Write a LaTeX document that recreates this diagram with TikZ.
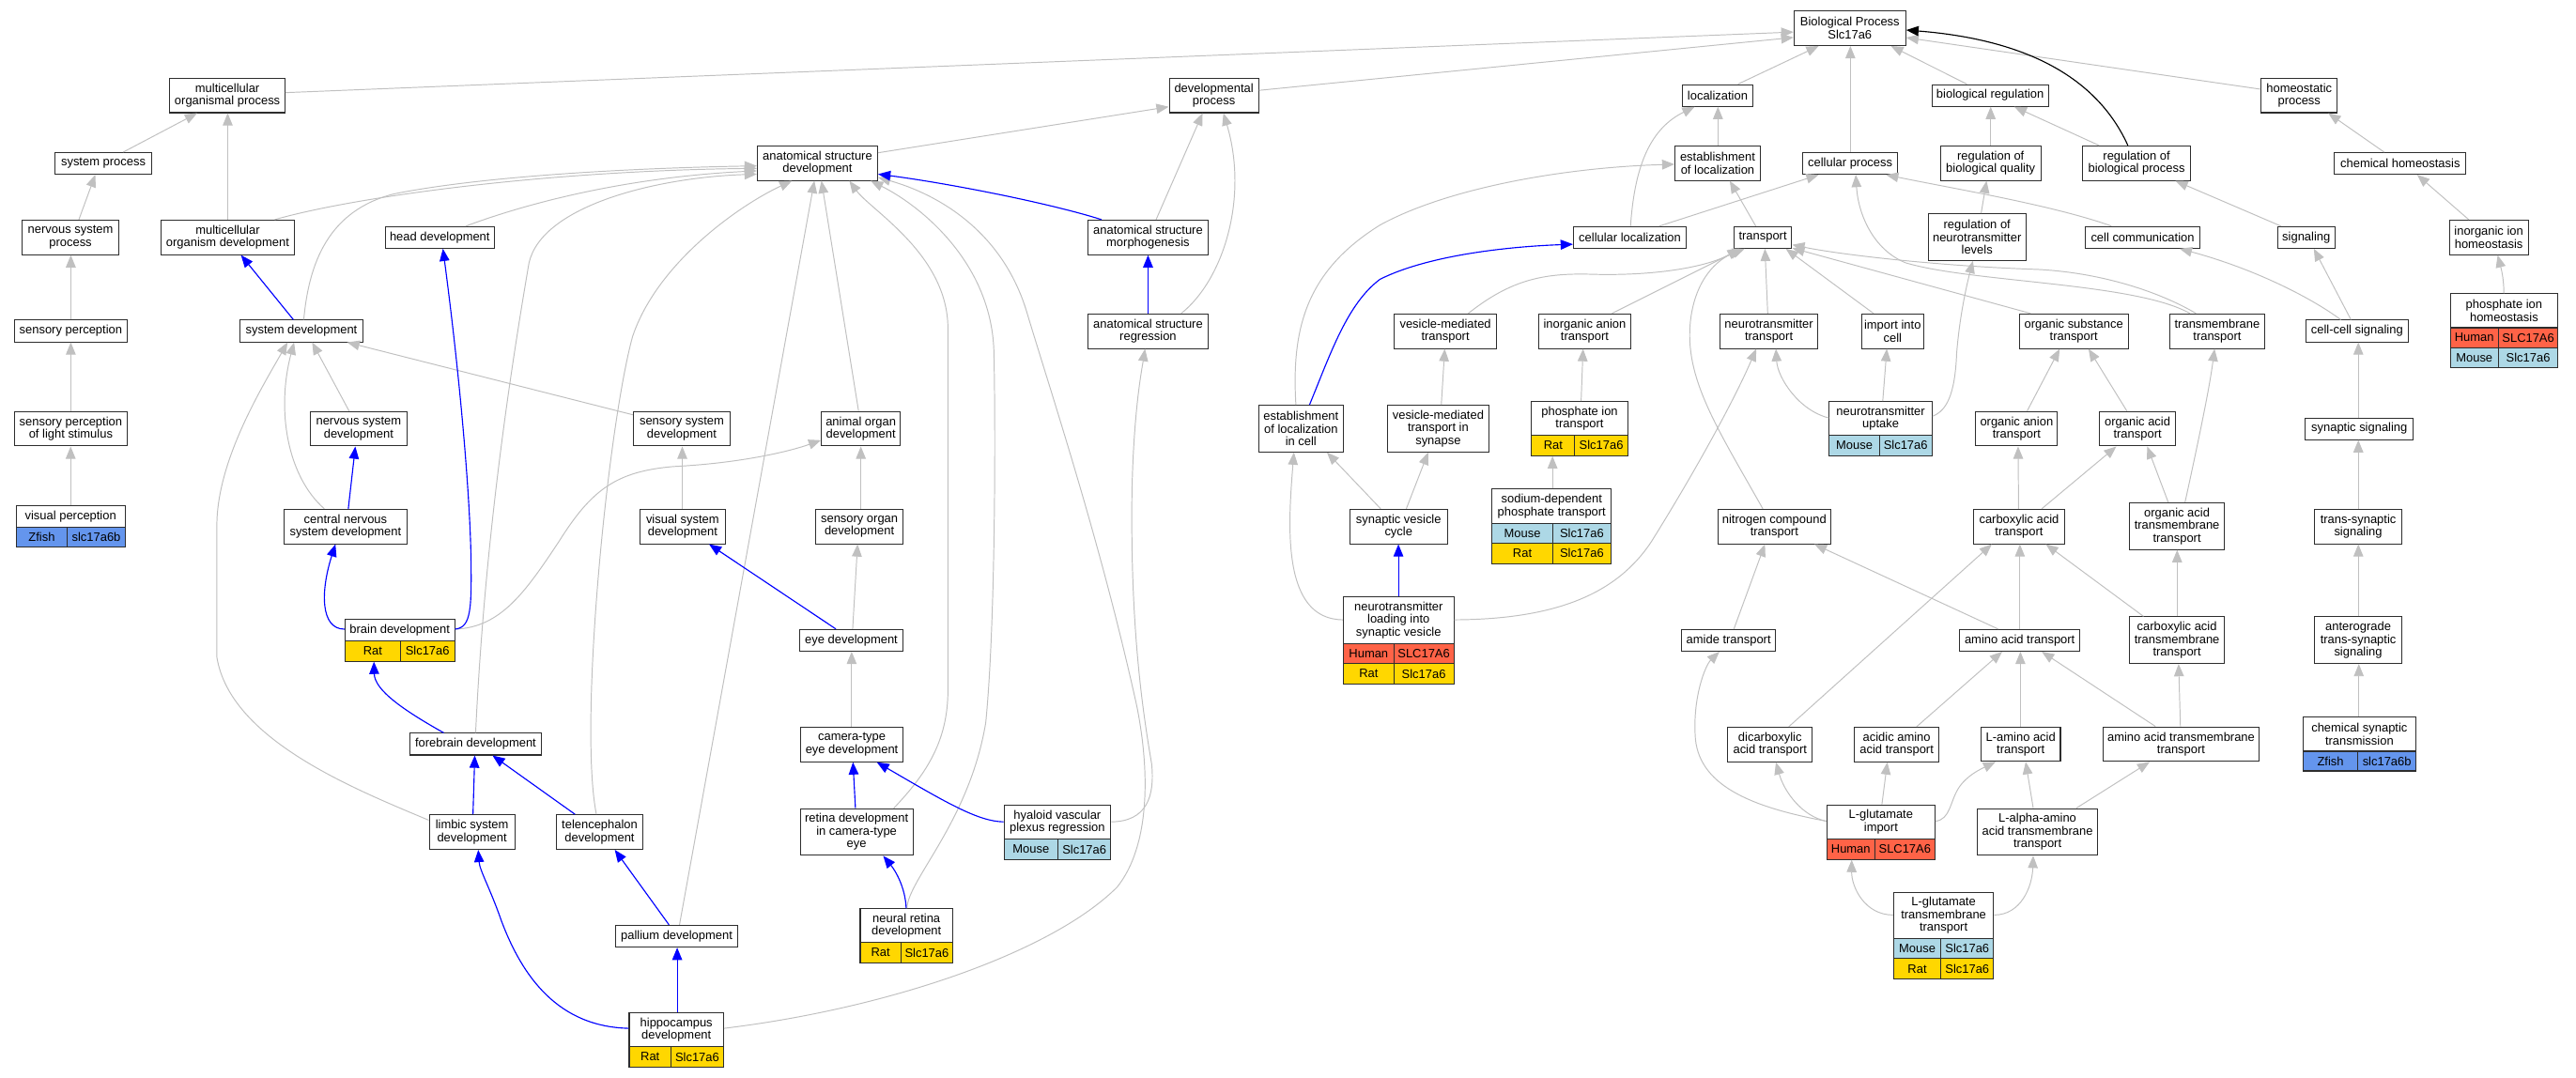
\documentclass[tikz,border=0pt]{standalone}
\usepackage{fontspec}
\setmainfont{Liberation Sans}
\usetikzlibrary{arrows.meta}
\definecolor{edgegray}{RGB}{192,192,192}
\definecolor{tomato}{RGB}{255,99,71}
\definecolor{lblue}{RGB}{173,216,230}
\definecolor{gold}{RGB}{255,215,0}
\definecolor{zfish}{RGB}{100,149,237}
\definecolor{boxline}{RGB}{45,45,45}
\newcommand\gofont{\fontsize{7.4pt}{7.7pt}\selectfont}
\newcommand\gonode[6]{\node[gobox, minimum width=#4, minimum height=#5] (#1) at (#2,#3) {#6};}
\newcommand\generow[9]{%
 \node[gocell, fill=#7, minimum width={#3-#2}, minimum height={#6-#5}] (#1-a) at ({(#2+#3)/2},{(#5+#6)/2}) {#8};
 \node[gocell, fill=#7, minimum width={#4-#3}, minimum height={#6-#5}] (#1-b) at ({(#3+#4)/2},{(#5+#6)/2}) {#9};}
\begin{document}
\begin{tikzpicture}[x=1pt,y=-1pt,
  gobox/.style={draw=boxline, line width=0.6pt, fill=white, rectangle, inner sep=0pt, align=center, font=\gofont},
  gocell/.style={draw=boxline, line width=0.6pt, rectangle, inner sep=0pt, font=\gofont},
  gedge/.style={draw=edgegray, line width=0.55pt, -{Triangle[length=7.5pt,width=6pt]}},
  bedge/.style={draw=blue, line width=0.65pt, -{Triangle[length=7.5pt,width=6pt]}},
  kedge/.style={draw=black, line width=0.65pt, -{Triangle[length=7.5pt,width=6pt]}}]
\fill[white] (0,0) rectangle (1568,655.7);
\useasboundingbox (0,0) rectangle (1568,655.7);

% ---------- nodes ----------
\gonode{bp}{1126}{17.2}{68}{21}{Biological Process\\Slc17a6}
\gonode{mop}{138.4}{58.1}{70}{21}{multicellular\\organismal process}
\gonode{sysproc}{62.9}{99.5}{59}{13.2}{system process}
\gonode{nsp}{42.9}{144.5}{59}{21}{nervous system\\process}
\gonode{mod}{138.6}{144.5}{81}{21}{multicellular\\organism development}
\gonode{headdev}{267.7}{144.5}{66.6}{13.2}{head development}
\gonode{sensperc}{43.1}{201.5}{68.7}{13.2}{sensory perception}
\gonode{sysdev}{183.5}{201.5}{74.7}{13.2}{system development}
\gonode{devproc}{738.9}{58.1}{54.4}{21}{developmental\\process}
\gonode{asd}{497.6}{99.3}{73.2}{21}{anatomical structure\\development}
\gonode{asm}{698.8}{144.5}{73.2}{21}{anatomical structure\\morphogenesis}
\gonode{asr}{698.8}{201.6}{73.2}{21}{anatomical structure\\regression}
\gonode{loc}{1045.5}{58.1}{43}{13.2}{localization}
\gonode{eol}{1045.5}{99.3}{52}{21}{establishment\\of localization}
\gonode{cp}{1126.2}{99.5}{58}{13.2}{cellular process}
\gonode{cloc}{992.1}{144.5}{68.7}{13.2}{cellular localization}
\gonode{transport}{1073}{144.5}{35.2}{13.2}{transport}
\gonode{vmt}{879.8}{201.6}{61.9}{21}{vesicle-mediated\\transport}
\gonode{iat}{964.6}{201.6}{55.8}{21}{inorganic anion\\transport}
\gonode{ntt}{1076.7}{201.6}{59.6}{21}{neurotransmitter\\transport}
\gonode{iic}{1152}{201.6}{38}{21}{import into\\cell}
\gonode{breg}{1211.4}{58.1}{70.7}{13.2}{biological regulation}
\gonode{hp}{1399.5}{58.1}{46.5}{21}{homeostatic\\process}
\gonode{rbq}{1211.7}{99.3}{61}{21}{regulation of\\biological quality}
\gonode{rbp}{1300.5}{99.3}{65.4}{21}{regulation of\\biological process}
\gonode{ch}{1461}{99.5}{80}{13.2}{chemical homeostasis}
\gonode{rnl}{1203.4}{144.3}{59.4}{28.4}{regulation of\\neurotransmitter\\levels}
\gonode{cc}{1304.2}{144.5}{70}{13.2}{cell communication}
\gonode{sig}{1403.8}{144.5}{35}{13.2}{signaling}
\gonode{iih}{1514.9}{144.5}{48}{21}{inorganic ion\\homeostasis}
\gonode{ost}{1262.3}{201.6}{66.4}{21}{organic substance\\transport}
\gonode{tt}{1349.6}{201.6}{57.3}{21}{transmembrane\\transport}
\gonode{ccs}{1434.7}{201.5}{62.6}{13.2}{cell-cell signaling}
\gonode{pih}{1524.2}{189.15}{65.6}{20.7}{phosphate ion\\homeostasis}
\generow{pih1}{1491.4}{1520.8}{1557}{199.5}{211.6}{tomato}{Human}{SLC17A6}
\generow{pih2}{1491.4}{1520.8}{1557}{211.6}{223.8}{lblue}{Mouse}{Slc17a6}
\gonode{splsm}{43.1}{261}{68.7}{21}{sensory perception\\of light stimulus}
\gonode{vp}{43}{314.4}{66.4}{13.4}{visual perception}
\generow{vp1}{9.8}{41}{76.2}{321.1}{332.9}{zfish}{Zfish}{slc17a6b}
\gonode{nsd}{218.3}{261}{58.8}{21}{nervous system\\development}
\gonode{cnsd}{210.3}{320.5}{75}{21}{central nervous\\system development}
\gonode{brain}{243.35}{383.5}{66.7}{13.2}{brain development}
\generow{brain1}{210}{243.7}{276.7}{390.1}{402.5}{gold}{Rat}{Slc17a6}
\gonode{ssd}{415}{261}{59}{21}{sensory system\\development}
\gonode{aod}{524}{261}{48}{21}{animal organ\\development}
\gonode{vsd}{415.5}{320.5}{51.8}{21}{visual system\\development}
\gonode{sod}{523.1}{320.5}{52.8}{21}{sensory organ\\development}
\gonode{eye}{518.2}{389.8}{62.6}{13.2}{eye development}
\gonode{eolic}{791.9}{260.9}{51.7}{28.4}{establishment\\of localization\\in cell}
\gonode{vmts}{875.4}{260.9}{62}{28.4}{vesicle-mediated\\transport in\\synapse}
\gonode{pit}{961.5}{254.7}{58.6}{20.4}{phosphate ion\\transport}
\generow{pit1}{932.2}{958.6}{990.8}{264.9}{277.4}{gold}{Rat}{Slc17a6}
\gonode{ntu}{1144.75}{254.7}{62.5}{20.4}{neurotransmitter\\uptake}
\generow{ntu1}{1113.5}{1143.9}{1176}{264.9}{277.4}{lblue}{Mouse}{Slc17a6}
\gonode{sdpt}{944.5}{308.2}{72.4}{20.8}{sodium-dependent\\phosphate transport}
\generow{sdpt1}{908.3}{945}{980.7}{318.6}{330.8}{lblue}{Mouse}{Slc17a6}
\generow{sdpt2}{908.3}{945}{980.7}{330.8}{343}{gold}{Rat}{Slc17a6}
\gonode{svc}{851.3}{320.5}{59.6}{21}{synaptic vesicle\\cycle}
\gonode{nct}{1080}{320.5}{68.7}{21}{nitrogen compound\\transport}
\gonode{ntl}{851.3}{377.5}{67.2}{28.2}{neurotransmitter\\loading into\\synaptic vesicle}
\generow{ntl1}{817.7}{848.4}{884.9}{391.6}{404}{tomato}{Human}{SLC17A6}
\generow{ntl2}{817.7}{848.4}{884.9}{404}{416.4}{gold}{Rat}{Slc17a6}
\gonode{amide}{1052.2}{389.8}{57.3}{13.2}{amide transport}
\gonode{oant}{1227.5}{261}{49.8}{21}{organic anion\\transport}
\gonode{oact}{1301.1}{261}{46}{21}{organic acid\\transport}
\gonode{ss}{1436.1}{261}{65.8}{13.2}{synaptic signaling}
\gonode{cat}{1229}{320.5}{55.8}{21}{carboxylic acid\\transport}
\gonode{oatt}{1325.1}{320.3}{57.7}{28.4}{organic acid\\transmembrane\\transport}
\gonode{tss}{1435.4}{320.5}{52.8}{21}{trans-synaptic\\signaling}
\gonode{aat}{1229.4}{389.8}{73.3}{13.2}{amino acid transport}
\gonode{catt}{1325.1}{389.7}{57.7}{28.4}{carboxylic acid\\transmembrane\\transport}
\gonode{ats}{1435.4}{389.7}{52.8}{28.4}{anterograde\\trans-synaptic\\signaling}
\gonode{fore}{289.5}{453}{79.6}{13.2}{forebrain development}
\gonode{cam}{518.5}{453.2}{62.7}{21}{camera-type\\eye development}
\gonode{limbic}{287.3}{506.5}{52}{21}{limbic system\\development}
\gonode{tel}{365}{506.5}{52.2}{21}{telencephalon\\development}
\gonode{retina}{521.4}{506.5}{68.6}{28.4}{retina development\\in camera-type\\eye}
\gonode{hyaloid}{643.6}{500.4}{65}{20.8}{hyaloid vascular\\plexus regression}
\generow{hy1}{611.1}{644}{676.1}{510.8}{523.2}{lblue}{Mouse}{Slc17a6}
\gonode{pallium}{411.9}{569.9}{74.1}{13.3}{pallium development}
\gonode{nrd}{551.75}{563.4}{56.3}{20.4}{neural retina\\development}
\generow{nrd1}{523.6}{548.4}{579.9}{573.6}{586.2}{gold}{Rat}{Slc17a6}
\gonode{hippo}{411.7}{626.8}{57.4}{20.6}{hippocampus\\development}
\generow{hippo1}{383}{408.4}{440.4}{637.1}{649.5}{gold}{Rat}{Slc17a6}
\gonode{dat}{1077.4}{453.2}{51.3}{21}{dicarboxylic\\acid transport}
\gonode{aaat}{1154.5}{453.2}{51.3}{21}{acidic amino\\acid transport}
\gonode{lgi}{1144.9}{500.3}{65.8}{20.6}{L-glutamate\\import}
\generow{lgi1}{1112}{1141.1}{1177.8}{510.6}{523.1}{tomato}{Human}{SLC17A6}
\gonode{lgtt}{1183.05}{557.4}{60.9}{27.8}{L-glutamate\\transmembrane\\transport}
\generow{lgtt1}{1152.6}{1181.4}{1213.5}{571.3}{583.5}{lblue}{Mouse}{Slc17a6}
\generow{lgtt2}{1152.6}{1181.4}{1213.5}{583.5}{596.1}{gold}{Rat}{Slc17a6}
\gonode{laat}{1230}{453}{48.3}{21}{L-amino acid\\transport}
\gonode{aatt}{1327.6}{453}{95.4}{21}{amino acid transmembrane\\transport}
\gonode{cst}{1436.15}{447}{68.7}{20.6}{chemical synaptic\\transmission}
\generow{cst1}{1401.8}{1435.3}{1470.5}{457.3}{469.3}{zfish}{Zfish}{slc17a6b}
\gonode{laatt}{1240.2}{506.4}{73.6}{28.4}{L-alpha-amino\\acid transmembrane\\transport}

% ---------- gray edges, left ----------
\draw[gedge] (mop.east |- 0,56.4) -- (bp.west |- 0,19.5);
\draw[gedge] (devproc.east |- 0,55) -- (bp.west |- 0,22.8);
\draw[gedge] (sysproc.north -| 75,0) -- (mop.south -| 120,0);
\draw[gedge] (nsp.north -| 48,0) -- (sysproc.south -| 58,0);
\draw[gedge] (sensperc.north) -- (sensperc.north |- nsp.south);
\draw[gedge] (splsm.north) -- (splsm.north |- sensperc.south);
\draw[gedge] (vp.north) -- (vp.north |- splsm.south);
\draw[gedge] (mod.north) -- (mod.north |- mop.south);
\draw[gedge] (mod.north -| 167.2,0) .. controls (215,120) and (330,104) .. (asd.west |- 0,102.5);
\draw[gedge] (sysdev.north -| 184.9,0) .. controls (188,160) and (200,128) .. (240,118) .. controls (300,106) and (400,102) .. (asd.west |- 0,101);
\draw[gedge] (headdev.north -| 283.7,0) .. controls (320,124) and (380,108) .. (asd.west |- 0,104);
\draw[gedge] (fore.north) .. controls (295,330) and (310,230) .. (322,160) .. controls (330,125) and (400,108) .. (asd.west |- 0,106);
\draw[gedge] (tel.north -| 363,0) .. controls (352,440) and (370,260) .. (385,205) .. controls (400,160) and (450,125) .. (asd.south -| 482,0);
\draw[gedge] (pallium.north -| 413.6,0) -- (asd.south -| 495.7,0);
\draw[gedge] (aod.north -| 522.6,0) -- (asd.south -| 500,0);
\draw[gedge] (retina.north -| 544,0) .. controls (565,470) and (577,450) .. (577,420) -- (577,200) .. controls (577,155) and (530,128) .. (asd.south -| 517,0);
\draw[gedge] (nrd.north -| 552,0) .. controls (553,535) and (590,500) .. (600,440) .. controls (606,380) and (606,260) .. (605,215) .. controls (604,160) and (560,125) .. (asd.south -| 530,0);
\draw[gedge] (hippo.east |- 0,626) .. controls (540,614) and (640,580) .. (680,540) .. controls (700,515) and (700,470) .. (692,430) .. controls (670,330) and (640,240) .. (625,190) .. controls (610,140) and (570,118) .. (asd.east |- 0,108);
\draw[gedge] (asd.east |- 0,93) -- (devproc.west |- 0,65);
\draw[gedge] (asm.north -| 703.7,0) -- (devproc.south -| 732,0);
\draw[gedge] (asr.north -| 719,0) .. controls (745,170) and (760,120) .. (devproc.south -| 744.7,0);
\draw[gedge] (hyaloid.east |- 0,500.3) .. controls (698,500) and (703,485) .. (701,465) .. controls (695,430) and (688,380) .. (689,300) .. controls (690,250) and (695,225) .. (asr.south -| 697,0);
\draw[gedge] (nsd.north -| 212.5,0) -- (sysdev.south -| 190,0);
\draw[gedge] (cnsd.north -| 197.4,0) .. controls (175,290) and (168,250) .. (sysdev.south -| 179,0);
\draw[gedge] (limbic.west |- 0,499.3) .. controls (215,480) and (140,450) .. (132,400) -- (132,320) .. controls (132,280) and (160,235) .. (sysdev.south -| 175,0);
\draw[gedge] (ssd.west |- 0,252.5) -- (sysdev.south -| 211.3,0);
\draw[gedge] (vsd.north -| 415.3,0) -- (ssd.south -| 415.3,0);
\draw[gedge] (eye.north -| 519,0) -- (sod.south -| 522,0);
\draw[gedge] (sod.north -| 524,0) -- (aod.south -| 524,0);
\draw[gedge] (brain.east |- 0,383) .. controls (305,382) and (320,360) .. (340,330) .. controls (360,298) and (375,287) .. (410,284) .. controls (450,282) and (480,275) .. (aod.west |- 0,268);
\draw[gedge] (cam.north -| 518.4,0) -- (eye.south -| 518.4,0);

% ---------- gray edges, right ----------
\draw[gedge] (loc.north -| 1057.9,0) -- (bp.south -| 1107,0);
\draw[gedge] (eol.north -| 1045.7,0) -- (loc.south -| 1045.7,0);
\draw[gedge] (cloc.north -| 992.5,0) .. controls (995,100) and (1005,78) .. (loc.south -| 1031.5,0);
\draw[gedge] (cloc.north -| 1010.1,0) -- (cp.south -| 1107,0);
\draw[gedge] (transport.north -| 1068.7,0) -- (eol.south -| 1052.9,0);
\draw[gedge] (cp.north -| 1126.3,0) -- (bp.south -| 1126.3,0);
\draw[gedge] (eolic.north -| 788.8,0) .. controls (786,200) and (795,165) .. (840,137) .. controls (880,115) and (950,102) .. (eol.west |- 0,100);
\draw[gedge] (svc.north -| 840.4,0) -- (eolic.south -| 807.7,0);
\draw[gedge] (svc.north -| 856,0) -- (vmts.south -| 869.3,0);
\draw[gedge] (ntl.west |- 0,377.3) .. controls (780,377) and (784,320) .. (eolic.south -| 787.6,0);
\draw[gedge] (ntl.east |- 0,377.3) .. controls (950,377) and (985,360) .. (1005,330) .. controls (1030,290) and (1055,245) .. (ntt.south -| 1069,0);
\draw[gedge] (ntu.west |- 0,254.4) .. controls (1095,250) and (1082,230) .. (ntt.south -| 1081,0);
\draw[gedge] (ntt.north -| 1076,0) -- (transport.south -| 1074.3,0);
\draw[gedge] (vmt.north -| 893.7,0) .. controls (920,170) and (940,166) .. (970,167) .. controls (1010,168) and (1040,162) .. (transport.south -| 1059,0);
\draw[gedge] (iat.north -| 981.2,0) -- (transport.south -| 1060,0);
\draw[gedge] (nct.north -| 1073,0) .. controls (1045,260) and (1025,230) .. (1029,195) .. controls (1032,170) and (1045,158) .. (transport.south -| 1062,0);
\draw[gedge] (iic.north -| 1140.4,0) -- (transport.south -| 1087,0);
\draw[gedge] (ntu.north -| 1146,0) -- (iic.south -| 1148.5,0);
\draw[gedge] (ost.north -| 1236,0) -- (transport.east |- 0,151);
\draw[gedge] (tt.north -| 1336.7,0) .. controls (1315,178) and (1280,166) .. (1240,164) .. controls (1180,162) and (1120,155) .. (transport.east |- 0,149);
\draw[gedge] (tt.north -| 1333,0) .. controls (1300,172) and (1200,172) .. (1160,160) .. controls (1140,152) and (1131,130) .. (cp.south -| 1129.6,0);
\draw[gedge] (cc.north -| 1285.2,0) .. controls (1250,125) and (1190,115) .. (cp.south -| 1148,0);
\draw[gedge] (oant.north -| 1233.9,0) -- (ost.south -| 1253.7,0);
\draw[gedge] (oact.north -| 1294.6,0) -- (ost.south -| 1271.3,0);
\draw[gedge] (oatt.north -| 1330,0) .. controls (1340,260) and (1345,235) .. (tt.south -| 1348,0);
\draw[gedge] (oatt.north -| 1319.8,0) -- (oact.south -| 1307,0);
\draw[gedge] (cat.north -| 1228.7,0) -- (oant.south -| 1228.4,0);
\draw[gedge] (cat.north -| 1242.8,0) -- (oact.south -| 1288.2,0);
\draw[gedge] (aat.north -| 1229.5,0) -- (cat.south -| 1229.5,0);
\draw[gedge] (catt.north -| 1304.7,0) -- (cat.south -| 1245.3,0);
\draw[gedge] (catt.north -| 1325.2,0) -- (oatt.south -| 1325.2,0);
\draw[gedge] (aat.north -| 1216.2,0) -- (nct.south -| 1104.4,0);
\draw[gedge] (dat.north -| 1088.8,0) -- (cat.south -| 1212.4,0);
\draw[gedge] (aaat.north -| 1166.6,0) -- (aat.south -| 1218.7,0);
\draw[gedge] (laat.north -| 1229.8,0) -- (aat.south -| 1229.8,0);
\draw[gedge] (aatt.north -| 1312,0) -- (aat.south -| 1242.8,0);
\draw[gedge] (aatt.north -| 1327.2,0) -- (catt.south -| 1326.1,0);
\draw[gedge] (amide.north -| 1055.4,0) -- (nct.south -| 1074.3,0);
\draw[gedge] (lgi.west |- 0,499.9) .. controls (1070,492) and (1035,480) .. (1032,450) .. controls (1030,425) and (1038,405) .. (amide.south -| 1046.6,0);
\draw[gedge] (lgi.west |- 0,499.9) .. controls (1097,497) and (1086,482) .. (dat.south -| 1081,0);
\draw[gedge] (lgi.north -| 1145.5,0) -- (aaat.south -| 1148.8,0);
\draw[gedge] (lgi.east |- 0,499.9) .. controls (1187,499) and (1187,488) .. (1192,480) .. controls (1197,472) and (1206,468) .. (laat.south -| 1214.7,0);
\draw[gedge] (laatt.north -| 1237.6,0) -- (laat.south -| 1233,0);
\draw[gedge] (laatt.north -| 1263.9,0) -- (aatt.south -| 1308.5,0);
\draw[gedge] (lgtt.west |- 0,557) .. controls (1135,557) and (1127,540) .. (lgi1-a.south -| 1127.1,0);
\draw[gedge] (lgtt.east |- 0,557) .. controls (1230,557) and (1237,540) .. (laatt.south -| 1237.6,0);
\draw[gedge] (pit.north -| 962.4,0) -- (iat.south -| 963.6,0);
\draw[gedge] (sdpt.north -| 945,0) -- (pit1-a.south -| 945,0);
\draw[gedge] (vmts.north -| 877.3,0) -- (vmt.south -| 879.4,0);
\draw[gedge] (ntu.east |- 0,253.4) .. controls (1185,250) and (1190,240) .. (1191,215) .. controls (1193,190) and (1198,170) .. (rnl.south -| 1200.9,0);
\draw[gedge] (rnl.north -| 1205.9,0) -- (rbq.south -| 1209.2,0);
\draw[gedge] (rbq.north -| 1211.7,0) -- (breg.south -| 1211.7,0);
\draw[gedge] (rbp.north -| 1277.6,0) -- (breg.south -| 1226.1,0);
\draw[gedge] (breg.north -| 1197.2,0) -- (bp.south -| 1151,0);
\draw[gedge] (hp.west |- 0,54.3) -- (bp.east |- 0,22.9);
\draw[gedge] (sig.north -| 1388.3,0) -- (rbp.south -| 1324.2,0);
\draw[gedge] (ccs.north -| 1431,0) -- (sig.south -| 1408.4,0);
\draw[gedge] (ccs.north -| 1424.8,0) .. controls (1405,180) and (1370,163) .. (cc.south -| 1326.7,0);
\draw[gedge] (ss.north -| 1435.5,0) -- (ccs.south -| 1435.5,0);
\draw[gedge] (tss.north -| 1435.5,0) -- (ss.south -| 1435.5,0);
\draw[gedge] (ats.north -| 1435.5,0) -- (tss.south -| 1435.5,0);
\draw[gedge] (cst.north -| 1435.8,0) -- (ats.south -| 1435.8,0);
\draw[gedge] (ch.north -| 1451.2,0) -- (hp.south -| 1417.2,0);
\draw[gedge] (iih.north -| 1502.7,0) -- (ch.south -| 1471.3,0);
\draw[gedge] (pih.north -| 1524.1,0) .. controls (1524,168) and (1522,162) .. (iih.south -| 1520.3,0);

% ---------- black edge ----------
\draw[kedge] (rbp.north -| 1295.2,0) .. controls (1280,55) and (1245,25) .. (bp.east |- 0,18.3);

% ---------- blue edges ----------
\draw[bedge] (sysdev.north -| 178.6,0) -- (mod.south -| 146.7,0);
\draw[bedge] (asm.north -| 670.5,0) .. controls (640,124) and (580,112) .. (asd.east |- 0,106);
\draw[bedge] (asr.north) -- (asm.south);
\draw[bedge] (cnsd.north -| 212,0) -- (nsd.south -| 216.3,0);
\draw[bedge] (brain.west |- 0,383) .. controls (195,383) and (195,360) .. (cnsd.south -| 204.2,0);
\draw[bedge] (brain.east |- 0,383) .. controls (287,382) and (287,370) .. (286.7,340) .. controls (286,300) and (280,230) .. (headdev.south -| 269.6,0);
\draw[bedge] (fore.north -| 270.1,0) .. controls (245,432) and (228,420) .. (brain1-a.south -| 227.6,0);
\draw[bedge] (limbic.north -| 287.9,0) -- (fore.south -| 289,0);
\draw[bedge] (tel.north -| 350,0) -- (fore.south -| 299.8,0);
\draw[bedge] (pallium.north -| 407.2,0) -- (tel.south -| 374.2,0);
\draw[bedge] (hippo.north -| 412.2,0) -- (pallium.south -| 412.2,0);
\draw[bedge] (hippo.west |- 0,626) .. controls (340,625) and (318,595) .. (305,560) .. controls (298,540) and (292,530) .. (limbic.south -| 291.1,0);
\draw[bedge] (eye.north -| 508.8,0) -- (vsd.south -| 431.6,0);
\draw[bedge] (retina.north -| 520.7,0) -- (cam.south -| 519.2,0);
\draw[bedge] (nrd.north -| 551.6,0) .. controls (551,540) and (545,530) .. (retina.south -| 537.6,0);
\draw[bedge] (hyaloid.west |- 0,500.3) .. controls (595,500) and (575,488) .. (cam.south -| 533.7,0);
\draw[bedge] (eolic.north -| 797.1,0) .. controls (810,215) and (820,185) .. (840,170) .. controls (870,155) and (920,150) .. (cloc.west |- 0,148.7);
\draw[bedge] (ntl.north -| 851.2,0) -- (svc.south -| 851.2,0);
\end{tikzpicture}
\end{document}
